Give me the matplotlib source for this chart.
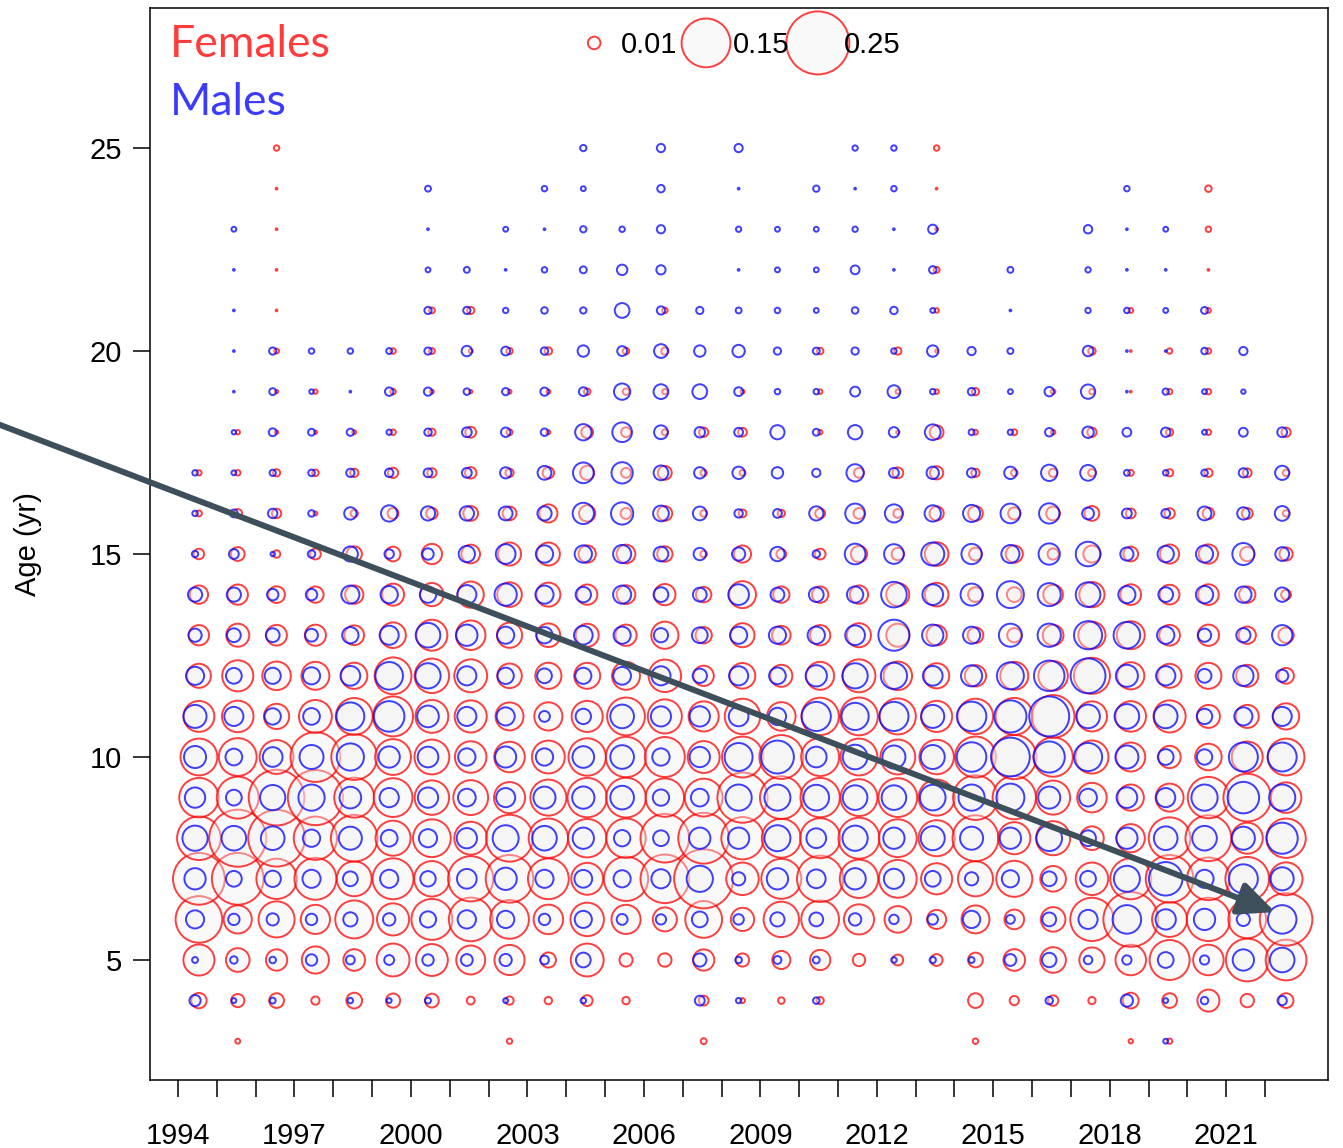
import matplotlib.pyplot as plt
import numpy as np

years = np.arange(1994, 2023)
ages = np.arange(3, 26)
year_labels = [str(y) if (y - 1994) % 3 == 0 else "" for y in years]

# proportion at age, rows are ages 3..25, columns are years 1994..2022
females = np.array([
    [0, .0015, 0, 0, 0, 0, 0, 0, .0018, 0, 0, 0, 0, .0022, 0, 0, 0, 0, 0, 0, .0019, 0, 0, 0, .0012, .0018, 0, 0, 0],
    [.0149, .0110, .0137, .0043, .0156, .0127, .0120, .0039, .0043, .0035, .0074, .0035, 0, .0061, .0015, .0027, .0033, 0, 0, 0, .0137, .0054, .0069, .0033, .0156, .0137, .0306, .0113, .0137],
    [.0609, .0352, .0285, .0465, .0295, .0681, .0641, .0528, .0572, .0145, .0681, .0110, .0113, .0285, .0110, .0207, .0259, .0097, .0074, .0088, .0137, .0295, .0413, .0400, .0587, .1006, .0587, .1150, .1046],
    [.1371, .0499, .0818, .0535, .0909, .0649, .1056, .1203, .0947, .0549, .0706, .0535, .0363, .0854, .0340, .0791, .0900, .0572, .0445, .0230, .0492, .0244, .0381, .1182, .1887, .0774, .1182, .0900, .1741],
    [.1689, .1689, .1026, .1108, .0765, .1056, .0791, .1291, .1430, .1046, .0641, .1236, .1490, .2197, .0665, .1006, .1348, .0928, .0900, .0609, .0774, .0818, .0413, .0665, .1056, .1430, .1150, .1203, .0681],
    [.1203, .2053, .2025, .1182, .1371, .0774, .0900, .0681, .1383, .0977, .0928, .0977, .1490, .1625, .1129, .0957, .1006, .1056, .0900, .0818, .1325, .0649, .0731, .0352, .0499, .1097, .1325, .0609, .0977],
    [.0977, .1108, .1955, .1914, .1006, .0947, .0748, .0765, .0609, .0818, .0977, .0996, .0928, .0900, .1588, .1150, .0977, .0854, .0947, .0818, .1258, .1182, .0731, .0549, .0432, .0492, .1077, .1430, .0587],
    [.0854, .0900, .0722, .1563, .1325, .0809, .0765, .0625, .0587, .0681, .0881, .1026, .1006, .0641, .1056, .1214, .0909, .0854, .0765, .0748, .1056, .1236, .0977, .0689, .0528, .0312, .0445, .0602, .0854],
    [.0602, .0625, .0400, .0681, .0854, .1006, .0681, .0649, .0492, .0499, .0609, .0900, .0731, .0572, .0791, .0513, .0881, .0900, .0818, .0609, .0791, .0863, .1150, .0572, .0587, .0649, .0334, .0334, .0432],
    [.0363, .0609, .0513, .0492, .0432, .0854, .0748, .0681, .0381, .0432, .0425, .0492, .0665, .0259, .0413, .0306, .0492, .0681, .0513, .0400, .0285, .0492, .0549, .0818, .0465, .0363, .0425, .0306, .0156],
    [.0259, .0334, .0269, .0280, .0244, .0413, .0602, .0549, .0400, .0352, .0334, .0285, .0465, .0168, .0363, .0220, .0259, .0363, .0334, .0259, .0156, .0127, .0269, .0465, .0492, .0269, .0285, .0189, .0149],
    [.0211, .0259, .0176, .0168, .0211, .0306, .0340, .0432, .0381, .0363, .0259, .0220, .0285, .0149, .0458, .0168, .0168, .0211, .0334, .0352, .0137, .0137, .0244, .0400, .0269, .0244, .0269, .0168, .0061],
    [.0069, .0120, .0035, .0074, .0149, .0137, .0259, .0220, .0334, .0334, .0189, .0220, .0149, .0027, .0185, .0061, .0074, .0168, .0097, .0352, .0103, .0185, .0079, .0185, .0137, .0230, .0234, .0130, .0110],
    [.0022, .0049, .0056, .0010, .0033, .0074, .0082, .0137, .0120, .0207, .0168, .0074, .0137, .0027, .0039, .0033, .0061, .0074, .0049, .0127, .0137, .0094, .0120, .0137, .0061, .0069, .0082, .0074, .0027],
    [.0018, .0019, .0033, .0027, .0043, .0066, .0054, .0082, .0043, .0082, .0127, .0061, .0120, .0025, .0022, 0, 0, .0061, .0074, .0110, .0043, .0027, .0043, .0035, .0022, .0033, .0043, .0049, .0027],
    [0, .0012, .0007, .0007, .0010, .0019, .0033, .0074, .0022, .0010, .0088, .0061, .0022, .0054, .0049, 0, .0013, 0, .0007, .0120, .0015, .0022, .0013, .0054, 0, .0033, .0019, 0, .0054],
    [0, 0, .0007, .0012, 0, .0019, .0010, .0007, .0010, .0010, .0027, .0027, .0018, 0, .0010, 0, .0013, 0, .0013, .0013, .0033, 0, .0013, .0018, .0002, .0018, .0019, 0, 0],
    [0, 0, .0015, 0, 0, .0019, .0022, .0010, .0025, .0035, 0, .0027, .0033, 0, 0, 0, .0027, 0, .0033, .0005, 0, 0, 0, .0035, .0002, .0018, .0019, 0, 0],
    [0, 0, .0002, 0, 0, 0, .0022, .0033, 0, 0, 0, 0, .0019, 0, 0, 0, 0, 0, 0, .0013, 0, 0, 0, 0, .0015, 0, .0015, 0, 0],
    [0, 0, .0002, 0, 0, 0, 0, 0, 0, 0, 0, 0, 0, 0, 0, 0, 0, 0, 0, .0022, 0, 0, 0, 0, 0, 0, .0002, 0, 0],
    [0, 0, .0002, 0, 0, 0, 0, 0, 0, 0, 0, 0, 0, 0, 0, 0, 0, 0, 0, .0005, 0, 0, 0, 0, 0, 0, .0019, 0, 0],
    [0, 0, .0002, 0, 0, 0, 0, 0, 0, 0, 0, 0, 0, 0, 0, 0, 0, 0, 0, .0002, 0, 0, 0, 0, 0, 0, .0027, 0, 0],
    [0, 0, .0019, 0, 0, 0, 0, 0, 0, 0, 0, 0, 0, 0, 0, 0, 0, 0, 0, .0019, 0, 0, 0, 0, 0, 0, 0, 0, 0],
])

males = np.array([
    [0, 0, 0, 0, 0, 0, 0, 0, 0, 0, 0, 0, 0, 0, 0, 0, 0, 0, 0, 0, 0, 0, 0, 0, 0, .0015, 0, 0, 0],
    [.0079, .0015, .0022, 0, .0019, .0015, .0022, 0, .0015, 0, .0019, 0, 0, .0061, .0018, 0, .0027, 0, 0, 0, 0, 0, .0035, 0, .0094, .0015, .0035, 0, .0054],
    [.0022, .0035, .0027, .0082, .0049, .0061, .0082, .0088, .0094, .0049, .0137, 0, 0, .0110, .0027, .0039, .0030, 0, .0019, .0025, .0022, .0088, .0130, .0045, .0054, .0156, .0054, .0285, .0381],
    [.0207, .0082, .0094, .0082, .0127, .0097, .0164, .0211, .0189, .0082, .0185, .0074, .0066, .0156, .0069, .0127, .0120, .0097, .0056, .0069, .0189, .0049, .0120, .0230, .0513, .0259, .0285, .0110, .0513],
    [.0285, .0156, .0168, .0207, .0137, .0207, .0149, .0244, .0312, .0207, .0198, .0185, .0230, .0432, .0110, .0285, .0220, .0285, .0254, .0156, .0110, .0185, .0137, .0156, .0425, .0706, .0207, .0528, .0334],
    [.0400, .0381, .0352, .0189, .0334, .0176, .0207, .0259, .0425, .0381, .0285, .0168, .0156, .0285, .0285, .0425, .0244, .0400, .0285, .0363, .0334, .0285, .0413, .0156, .0285, .0352, .0381, .0334, .0609],
    [.0259, .0156, .0400, .0432, .0295, .0234, .0259, .0198, .0230, .0306, .0312, .0352, .0168, .0198, .0432, .0425, .0413, .0381, .0381, .0413, .0432, .0492, .0306, .0198, .0269, .0230, .0432, .0625, .0432],
    [.0306, .0176, .0244, .0363, .0465, .0285, .0269, .0189, .0280, .0189, .0295, .0352, .0189, .0259, .0492, .0681, .0269, .0381, .0334, .0363, .0549, .0947, .0609, .0499, .0334, .0156, .0149, .0528, .0528],
    [.0334, .0230, .0168, .0176, .0492, .0587, .0295, .0230, .0207, .0074, .0149, .0352, .0254, .0259, .0244, .0189, .0535, .0465, .0535, .0334, .0549, .0649, .1006, .0352, .0381, .0352, .0149, .0207, .0230],
    [.0207, .0156, .0164, .0185, .0244, .0479, .0400, .0230, .0168, .0137, .0164, .0198, .0230, .0130, .0230, .0176, .0285, .0400, .0432, .0244, .0280, .0458, .0587, .0765, .0306, .0234, .0120, .0259, .0094],
    [.0110, .0120, .0120, .0103, .0168, .0230, .0381, .0285, .0185, .0168, .0220, .0185, .0127, .0156, .0185, .0185, .0189, .0244, .0609, .0285, .0185, .0334, .0340, .0499, .0445, .0189, .0110, .0127, .0259],
    [.0127, .0127, .0082, .0082, .0207, .0189, .0168, .0230, .0312, .0207, .0149, .0207, .0137, .0120, .0269, .0120, .0137, .0168, .0413, .0269, .0306, .0458, .0334, .0381, .0185, .0137, .0189, .0168, .0130],
    [.0025, .0061, .0012, .0035, .0145, .0056, .0082, .0168, .0244, .0189, .0189, .0207, .0137, .0097, .0110, .0130, .0035, .0269, .0244, .0334, .0259, .0207, .0285, .0381, .0110, .0168, .0185, .0306, .0120],
    [.0019, .0039, .0056, .0027, .0097, .0168, .0127, .0130, .0120, .0127, .0285, .0312, .0156, .0120, .0045, .0049, .0127, .0244, .0207, .0168, .0185, .0244, .0259, .0088, .0061, .0049, .0120, .0097, .0137],
    [.0019, .0015, .0025, .0027, .0043, .0045, .0049, .0061, .0079, .0120, .0269, .0285, .0137, .0082, .0097, .0082, .0043, .0189, .0061, .0097, .0054, .0097, .0168, .0156, .0022, .0019, .0027, .0054, .0127],
    [0, .0012, .0039, .0030, .0033, .0018, .0035, .0061, .0056, .0035, .0168, .0244, .0120, .0069, .0049, .0127, .0030, .0130, .0066, .0156, .0022, .0018, .0045, .0082, .0049, .0056, .0015, .0049, .0061],
    [0, .0002, .0030, .0013, .0002, .0045, .0043, .0027, .0033, .0043, .0049, .0168, .0137, .0137, .0049, .0019, .0019, .0061, .0103, .0019, .0035, .0015, .0056, .0130, .0002, .0025, .0015, .0012, 0],
    [0, .0002, .0033, .0019, .0019, .0022, .0033, .0069, .0049, .0035, .0082, .0061, .0120, .0082, .0097, .0033, .0030, .0033, .0019, .0082, .0043, .0022, 0, .0069, .0002, .0002, .0027, .0043, 0],
    [0, .0002, 0, 0, 0, 0, .0033, .0033, .0018, .0027, .0025, .0137, .0043, .0033, .0022, .0019, .0015, .0027, .0035, .0015, 0, .0002, 0, .0018, .0019, .0015, .0030, 0, 0],
    [0, .0002, 0, 0, 0, 0, .0015, .0022, .0002, .0019, .0030, .0069, .0054, 0, .0002, .0015, .0015, .0049, .0002, .0035, 0, .0022, 0, .0018, .0002, .0002, 0, 0, 0],
    [0, .0015, 0, 0, 0, 0, .0002, 0, .0015, .0002, .0025, .0019, .0043, 0, .0018, .0015, .0015, .0018, .0002, .0054, 0, 0, 0, .0045, .0002, .0015, 0, 0, 0],
    [0, 0, 0, 0, 0, 0, .0022, 0, 0, .0019, .0015, 0, .0035, 0, .0002, 0, .0025, .0002, .0019, 0, 0, 0, 0, 0, .0019, 0, 0, 0, 0],
    [0, 0, 0, 0, 0, 0, 0, 0, 0, 0, .0025, 0, .0043, 0, .0043, 0, 0, .0018, .0019, 0, 0, 0, 0, 0, 0, 0, 0, 0, 0],
])

key_values = [0.01, 0.15, 0.25]

RED = (1.0, 0.0, 0.0, 0.75)
BLUE = (0.0, 0.0, 1.0, 0.75)
FILL = (0.94, 0.94, 0.94, 0.4)
ARROW = "#3e4f5c"


def bubble_area(p):
    # marker area (pt^2) proportional to the proportion at age
    return 8230.0 * np.asarray(p)


def main():
    fig = plt.figure(figsize=(13.43, 11.48), dpi=100)
    ax = fig.add_axes([150 / 1343, 1 - 1080 / 1148, 1178 / 1343, 1072 / 1148])

    for vals, shift, edge in [(females, 0.54, RED), (males, 0.44, BLUE)]:
        row, col = np.nonzero(vals)
        ax.scatter(years[col] + shift, ages[row], s=bubble_area(vals[row, col]),
                   facecolor=FILL, edgecolor=edge, linewidth=1.4, zorder=2)

    # bubble size key along the top
    key_x = 2004.72 + 2.88 * np.arange(len(key_values))
    ax.scatter(key_x, np.full(len(key_values), 27.59), s=bubble_area(key_values),
               facecolor=FILL, edgecolor=RED, linewidth=1.4, zorder=3)
    for x, v in zip(key_x, key_values):
        ax.text(x + 0.68, 27.55, f"{v:.2f}", va="center", ha="left",
                fontsize=21, family="Liberation Sans", zorder=4)

    ax.text(0.017, 0.966, "Females", transform=ax.transAxes, color="#ff3b3b",
            fontsize=32, family="Lato", va="center", ha="left")
    ax.text(0.017, 0.912, "Males", transform=ax.transAxes, color="#3b3bff",
            fontsize=32, family="Lato", va="center", ha="left")

    ax.set_xlim(1993.28, 2023.62)
    ax.set_ylim(2.044, 28.45)

    ax.set_xticks(years)
    ax.set_xticklabels(year_labels)
    ax.set_yticks([5, 10, 15, 20, 25])
    ax.tick_params(direction="out", length=12, width=1.1, labelsize=21, pad=8)
    ax.tick_params(axis="x", pad=18)
    for lab in ax.get_xticklabels() + ax.get_yticklabels():
        lab.set_family("Liberation Sans")
    ax.set_ylabel("Age (yr)", fontsize=21, family="Liberation Sans", labelpad=34)
    for sp in ax.spines.values():
        sp.set_linewidth(1.1)

    # trend arrow across the panel
    ax.annotate("", xy=(2022.26, 6.18), xytext=(1989.2, 18.26),
                arrowprops=dict(arrowstyle="-|>,head_length=2.2,head_width=1.0",
                                mutation_scale=10, color=ARROW, lw=4.3,
                                shrinkA=0, shrinkB=0),
                annotation_clip=False, zorder=5)

    fig.savefig("out.png", dpi=100)


if __name__ == "__main__":
    main()
